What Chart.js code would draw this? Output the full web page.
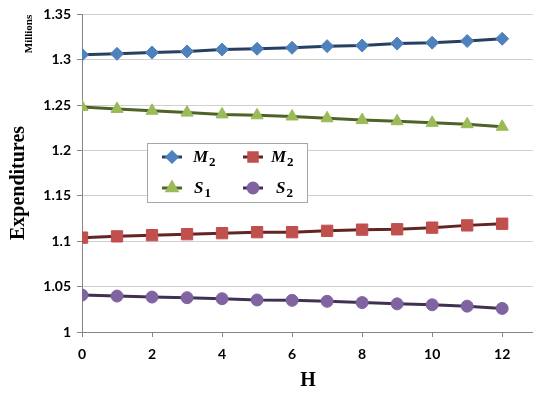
<!DOCTYPE html>
<html>
<head>
<meta charset="utf-8">
<script src="https://cdn.jsdelivr.net/npm/chart.js@4/dist/chart.umd.min.js"></script>
<style>
body{margin:0;background:#fff}
#wrap{width:533px;height:394px}
</style>
</head>
<body>
<div id="wrap"><canvas id="myChart"></canvas></div>
<script>
var hours = [0,1,2,3,4,5,6,7,8,9,10,11,12];
var m2Blue = [1.3055,1.3065,1.3080,1.3092,1.3113,1.3121,1.3132,1.3150,1.3157,1.3178,1.3188,1.3207,1.3231];
var s1Green = [1.2480,1.2458,1.2438,1.2418,1.2398,1.2388,1.2375,1.2355,1.2335,1.2323,1.2305,1.2290,1.2262];
var m2Red = [1.1040,1.1054,1.1067,1.1078,1.1089,1.1100,1.1100,1.1115,1.1128,1.1132,1.1150,1.1175,1.1193];
var s2Purple = [1.0407,1.0396,1.0385,1.0378,1.0367,1.0353,1.0349,1.0338,1.0324,1.0310,1.0300,1.0285,1.0260];
var xTickLabels = [0,2,4,6,8,10,12];
var yMin = 1, yMax = 1.35, yStep = 0.05;

function pts(vals){
    return hours.map(function(h,i){ return {x:h, y:vals[i]}; });
}

var sets = [
    {label:'M\u2082', base:'M', sub:'2', data:pts(m2Blue), borderColor:'#254061', pointBackgroundColor:'#4F81BD', pointBorderColor:'#4F81BD', pointStyle:'rectRot', pointRadius:6.5},
    {label:'M\u2082', base:'M', sub:'2', data:pts(m2Red), borderColor:'#632523', pointBackgroundColor:'#C0504D', pointBorderColor:'#C0504D', pointStyle:'rect', pointRadius:8},
    {label:'S\u2081', base:'S', sub:'1', data:pts(s1Green), borderColor:'#4F6228', pointBackgroundColor:'#9BBB59', pointBorderColor:'#9BBB59', pointStyle:'triangle', pointRadius:7},
    {label:'S\u2082', base:'S', sub:'2', data:pts(s2Purple), borderColor:'#3F3151', pointBackgroundColor:'#8064A2', pointBorderColor:'#8064A2', pointStyle:'circle', pointRadius:6}
];
sets.forEach(function(d){
    d.borderWidth = 3;
    d.pointBorderWidth = 1;
    d.pointHoverRadius = d.pointRadius;
    d.tension = 0;
    d.fill = false;
});

// legend box + axis titles drawn on the canvas
var extras = {
    id:'extras',
    afterDraw:function(chart){
        var ctx = chart.ctx;
        ctx.save();
        // legend
        ctx.fillStyle = '#fff';
        ctx.fillRect(147.5,143.5,160,59);
        ctx.strokeStyle = '#a6a6a6';
        ctx.lineWidth = 1;
        ctx.strokeRect(147.5,143.5,160,59);
        var spots = [[172,157,193],[253,157,271],[172,188,194],[253,188,276]];
        var sizes = [5,6,5.5,5];
        sets.forEach(function(d,i){
            var s = spots[i];
            ctx.strokeStyle = d.borderColor;
            ctx.lineWidth = 3;
            ctx.beginPath();
            ctx.moveTo(s[0]-10,s[1]);
            ctx.lineTo(s[0]+10,s[1]);
            ctx.stroke();
            ctx.fillStyle = d.pointBackgroundColor;
            ctx.strokeStyle = d.pointBorderColor;
            Chart.helpers.drawPoint(ctx,{pointStyle:d.pointStyle,radius:sizes[i],rotation:0,borderWidth:1},s[0],s[1]);
            ctx.fillStyle = '#000';
            ctx.textAlign = 'left';
            ctx.textBaseline = 'alphabetic';
            ctx.font = 'italic bold 17px "Liberation Serif"';
            ctx.fillText(d.base,s[2],s[1]+5);
            var w = ctx.measureText(d.base).width;
            ctx.font = 'bold 13px "Liberation Serif"';
            ctx.fillText(d.sub,s[2]+w+1,s[1]+9);
        });
        // titles
        ctx.fillStyle = '#000';
        ctx.textAlign = 'center';
        ctx.textBaseline = 'middle';
        ctx.font = 'bold 20px "Liberation Serif"';
        ctx.fillText('H',308,381);
        ctx.save();
        ctx.translate(19,183);
        ctx.rotate(-Math.PI/2);
        ctx.fillText('Expenditures',0,0);
        ctx.restore();
        ctx.save();
        ctx.translate(29,34);
        ctx.rotate(-Math.PI/2);
        ctx.font = 'bold 11px "Liberation Serif"';
        ctx.fillText('Millions',0,0);
        ctx.restore();
        ctx.restore();
    }
};

var ctx = document.getElementById('myChart');
var myChart = new Chart(ctx, {
    type:'line',
    data:{datasets:sets},
    plugins:[extras],
    options:{
        responsive:true,
        maintainAspectRatio:false,
        animation:false,
        layout:{autoPadding:false,padding:{top:8,right:0,left:0,bottom:0}},
        plugins:{legend:{display:false},tooltip:{enabled:false}},
        scales:{
            x:{
                type:'linear',
                min:0,
                max:12.88,
                afterFit:function(scale){ scale.height = 62; },
                afterBuildTicks:function(scale){
                    scale.ticks = xTickLabels.map(function(v){ return {value:v}; });
                },
                border:{color:'#868686',width:1},
                grid:{drawOnChartArea:false,color:'#868686',tickLength:5},
                ticks:{color:'#000',padding:9,maxRotation:0,font:{family:'Lato',weight:'bold',size:14}}
            },
            y:{
                min:yMin,
                max:yMax,
                afterFit:function(scale){ scale.width = 82; },
                border:{color:'#868686',width:1},
                grid:{color:'#d0d0d0',tickColor:'#868686',tickLength:5},
                ticks:{stepSize:yStep,color:'#000',padding:6,font:{family:'Lato',weight:'bold',size:14},
                    callback:function(v){ return String(+v.toFixed(2)); }}
            }
        }
    }
});
</script>
</body>
</html>
